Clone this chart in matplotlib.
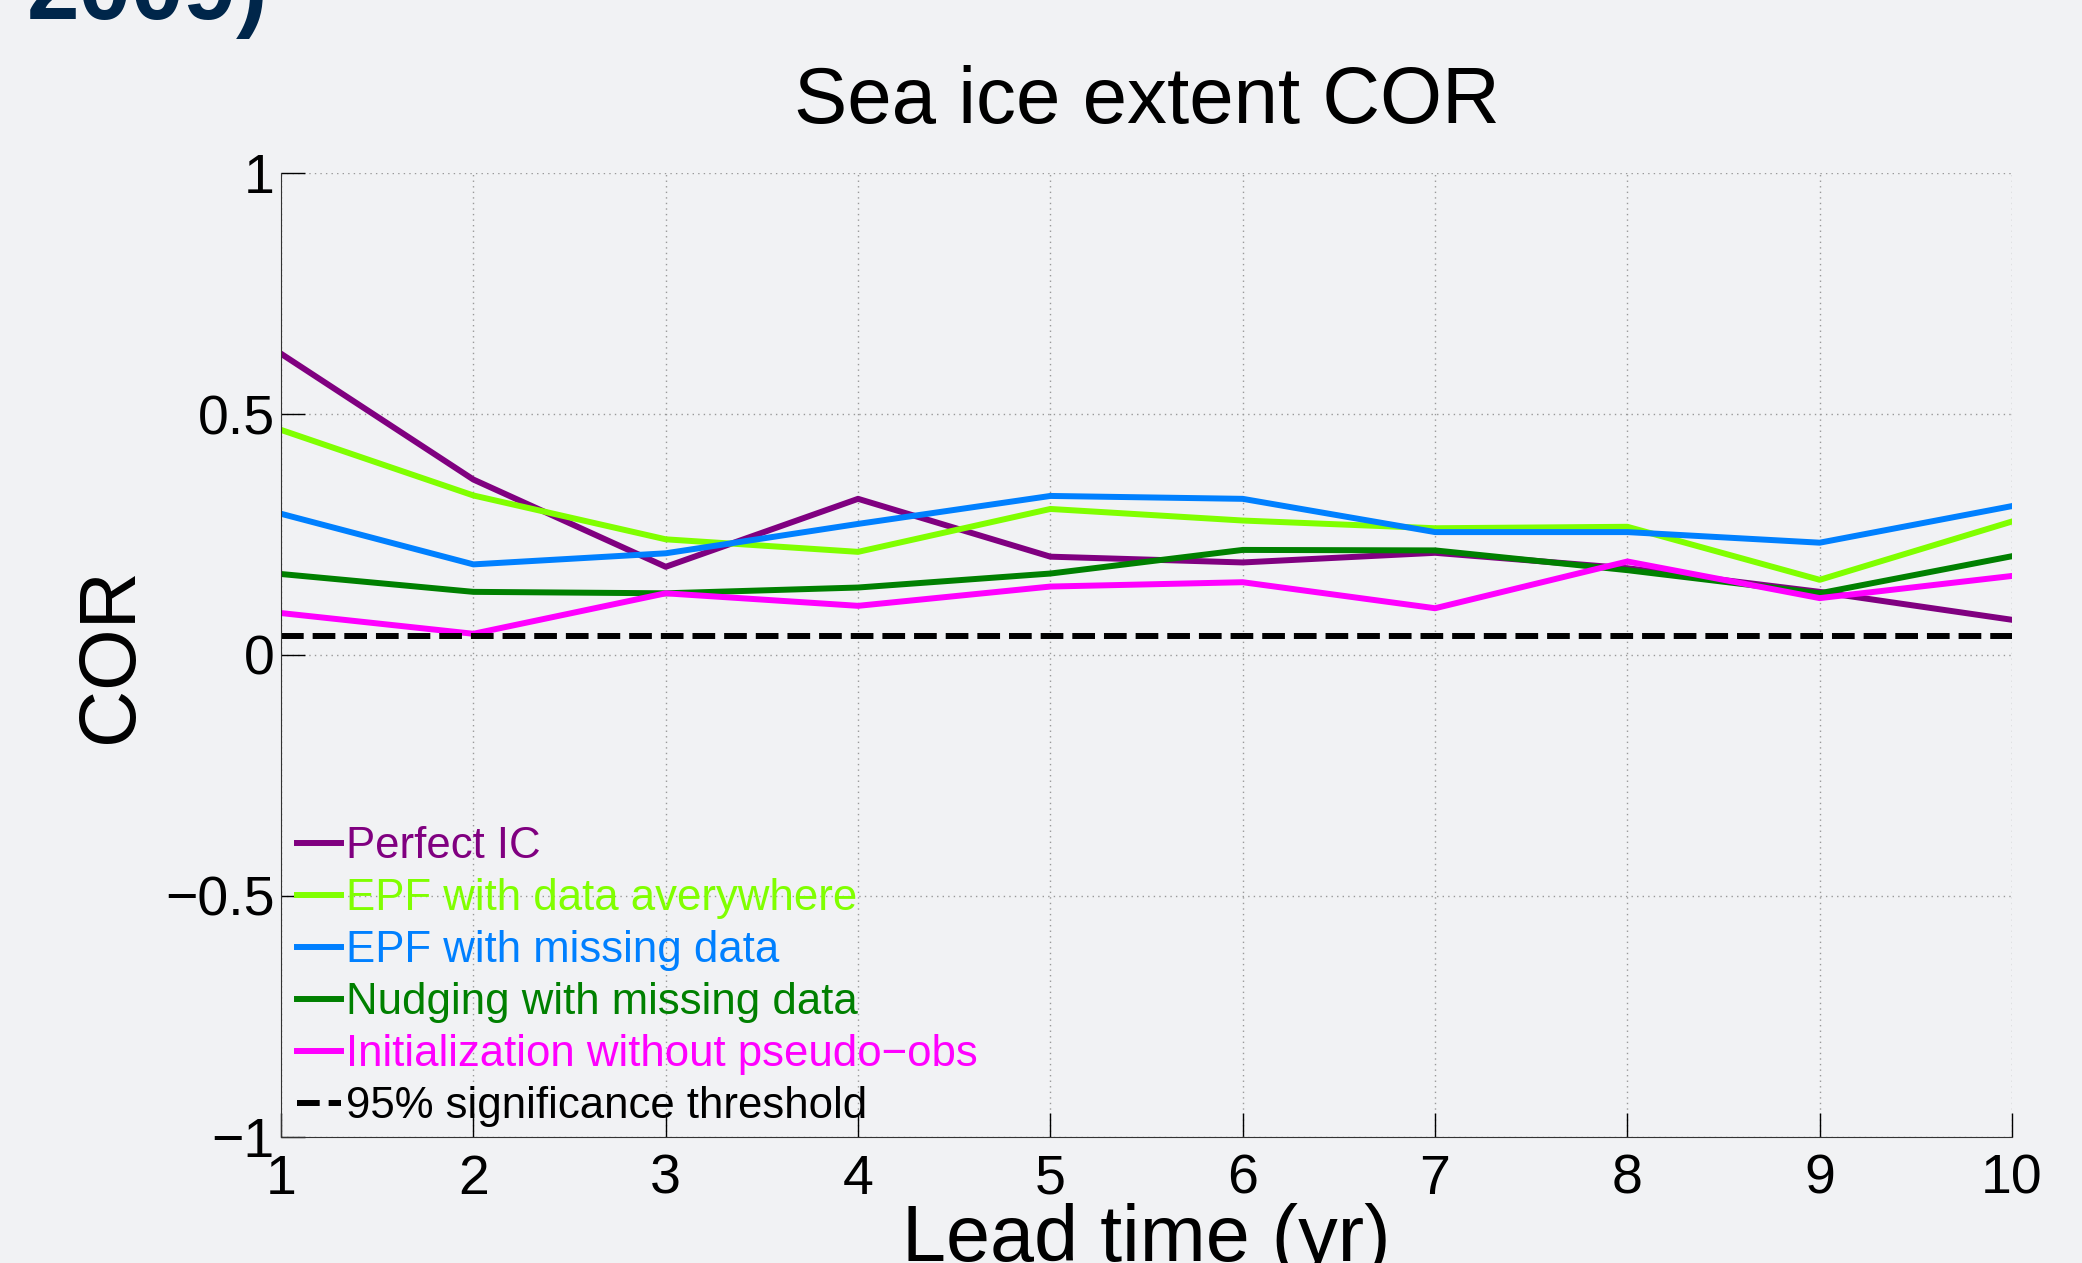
import matplotlib
matplotlib.use("Agg")
import matplotlib.pyplot as plt
import numpy as np

plt.rcParams['font.family'] = ['Liberation Sans', 'DejaVu Sans']

lead = np.arange(1, 11)
perfect_ic = [0.625, 0.364, 0.183, 0.324, 0.204, 0.192, 0.212, 0.180, 0.131, 0.073]
epf_everywhere = [0.467, 0.331, 0.240, 0.214, 0.303, 0.279, 0.263, 0.266, 0.156, 0.277]
epf_missing = [0.293, 0.188, 0.211, 0.272, 0.330, 0.324, 0.255, 0.255, 0.233, 0.309]
nudging_missing = [0.168, 0.131, 0.128, 0.140, 0.169, 0.218, 0.217, 0.176, 0.128, 0.205]
init_no_obs = [0.087, 0.044, 0.128, 0.102, 0.142, 0.151, 0.097, 0.194, 0.118, 0.164]
threshold = 0.039

labels = ['Perfect IC', 'EPF with data averywhere', 'EPF with missing data',
          'Nudging with missing data', 'Initialization without pseudo\u2212obs']
colors = ['#800080', '#80ff00', '#0080ff', '#008000', '#ff00ff']

bg = '#f1f2f4'
fig = plt.figure(figsize=(20.82, 12.63), dpi=100, facecolor=bg)
ax = fig.add_axes([0.135, 0.0998, 0.8314, 0.7632], facecolor=bg)

for vals, lab, c in zip([perfect_ic, epf_everywhere, epf_missing, nudging_missing, init_no_obs],
                        labels, colors):
    ax.plot(lead, vals, color=c, lw=4.3, label=lab)
ax.plot(lead, np.full(len(lead), threshold), color='black', lw=4.3, ls=(0, (3.8, 1.5)),
        label='95% significance threshold')

ax.set_xlim(1, 10)
ax.set_ylim(-1, 1)
ax.set_xticks(lead)
ax.set_yticks([-1, -0.5, 0, 0.5, 1])
ax.set_yticklabels(['\u22121', '\u22120.5', '0', '0.5', '1'])
ax.grid(True, color='#999999', ls=(0, (1, 3)), lw=1)
ax.tick_params(direction='in', length=17, width=1, labelsize=40)
ax.tick_params(axis='x', pad=12)
ax.tick_params(axis='y', pad=4.5)
for s in ['top', 'right']:
    ax.spines[s].set_visible(False)
for s in ['left', 'bottom']:
    ax.spines[s].set_color('#333333')

ax.set_title('Sea ice extent COR', fontsize=57.5, pad=36)
ax.set_xlabel('Lead time (yr)', fontsize=57, labelpad=-2)
ax.set_ylabel('COR', fontsize=57, labelpad=12)

leg = ax.legend(loc='lower left', fontsize=31.5, frameon=False, handlelength=1.0,
                handletextpad=0.12, labelspacing=0.25, borderaxespad=0.0,
                bbox_to_anchor=(-0.001, -0.008))
for txt, c in zip(leg.get_texts(), colors + ['black']):
    txt.set_color(c)

fig.text(0.013, 1 - 19 / 1263, '2009)', fontsize=68, fontweight='bold',
         color='#00264a', va='baseline', ha='left')

fig.savefig('out.png', dpi=100, facecolor=bg)
